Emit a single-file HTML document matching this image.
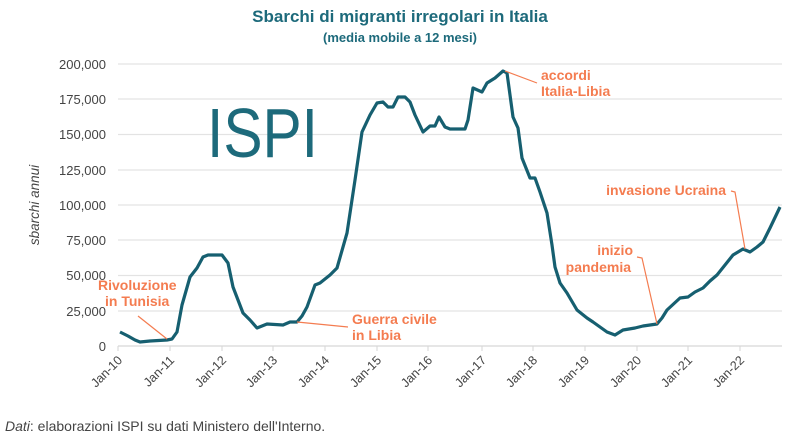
<!DOCTYPE html>
<html><head><meta charset="utf-8"><style>
html,body{margin:0;padding:0;background:#fff;}
svg{display:block;font-family:"Liberation Sans",sans-serif;}
</style></head><body>
<svg width="800" height="436" viewBox="0 0 800 436">
<text x="400" y="22" text-anchor="middle" font-size="17" font-weight="bold" fill="#1d6a7b">Sbarchi di migranti irregolari in Italia</text>
<text x="400" y="42" text-anchor="middle" font-size="13" font-weight="bold" fill="#1d6a7b">(media mobile a 12 mesi)</text>
<g stroke="#e3e3e3" stroke-width="1.2">
<line x1="118" x2="782" y1="64" y2="64"/><line x1="118" x2="782" y1="99" y2="99"/><line x1="118" x2="782" y1="134.5" y2="134.5"/><line x1="118" x2="782" y1="170" y2="170"/><line x1="118" x2="782" y1="205" y2="205"/><line x1="118" x2="782" y1="240" y2="240"/><line x1="118" x2="782" y1="275.5" y2="275.5"/><line x1="118" x2="782" y1="311" y2="311"/>
</g>
<line x1="118" x2="782" y1="346" y2="346" stroke="#d6d6d6" stroke-width="1.2"/>
<g stroke="#d6d6d6" stroke-width="1">
<line x1="118" x2="118" y1="346" y2="351"/><line x1="170" x2="170" y1="346" y2="351"/><line x1="222" x2="222" y1="346" y2="351"/><line x1="273" x2="273" y1="346" y2="351"/><line x1="325" x2="325" y1="346" y2="351"/><line x1="377" x2="377" y1="346" y2="351"/><line x1="428" x2="428" y1="346" y2="351"/><line x1="482" x2="482" y1="346" y2="351"/><line x1="533" x2="533" y1="346" y2="351"/><line x1="585" x2="585" y1="346" y2="351"/><line x1="637" x2="637" y1="346" y2="351"/><line x1="688" x2="688" y1="346" y2="351"/><line x1="740" x2="740" y1="346" y2="351"/>
</g>
<g font-size="13" fill="#444" text-anchor="end">
<text x="106" y="69">200,000</text><text x="106" y="104">175,000</text><text x="106" y="139">150,000</text><text x="106" y="175">125,000</text><text x="106" y="210">100,000</text><text x="106" y="245">75,000</text><text x="106" y="280">50,000</text><text x="106" y="316">25,000</text><text x="106" y="351">0</text>
</g>
<g font-size="12.5" fill="#444" text-anchor="end">
<text transform="translate(123,361) rotate(-45)">Jan-10</text>
<text transform="translate(175,361) rotate(-45)">Jan-11</text>
<text transform="translate(227,361) rotate(-45)">Jan-12</text>
<text transform="translate(278,361) rotate(-45)">Jan-13</text>
<text transform="translate(330,361) rotate(-45)">Jan-14</text>
<text transform="translate(382,361) rotate(-45)">Jan-15</text>
<text transform="translate(433,361) rotate(-45)">Jan-16</text>
<text transform="translate(487,361) rotate(-45)">Jan-17</text>
<text transform="translate(538,361) rotate(-45)">Jan-18</text>
<text transform="translate(590,361) rotate(-45)">Jan-19</text>
<text transform="translate(642,361) rotate(-45)">Jan-20</text>
<text transform="translate(693,361) rotate(-45)">Jan-21</text>
<text transform="translate(745,361) rotate(-45)">Jan-22</text>
</g>
<text transform="translate(39,205) rotate(-90)" text-anchor="middle" font-size="13.5" font-style="italic" fill="#444">sbarchi annui</text>
<text x="207" y="157" font-size="70" fill="#1d6a7b" textLength="111" lengthAdjust="spacingAndGlyphs">ISPI</text>
<polyline fill="none" stroke="#165f70" stroke-width="3.2" stroke-linejoin="round" points="120,332 128,336 135,340 140,342 150,341 167,340 172,339 177,332 182,305 190,277 197,268 203,257 208,255 222,255 228,263 233,287 243,313 250,320 257,328 267,324 283,325 290,322 297,322 302,316 307,307 315,285 320,283 330,275 337,268 347,233 355,180 362,132 370,115 377,103 383,102 388,107 393,107 398,97 405,97 410,102 415,115 423,132 430,126 435,126 439,117 445,127 450,129 457,129 465,129 468,120 473,88 482,92 487,83 495,78 503,71 507,73 513,117 518,128 522,158 530,178 535,178 540,192 547,213 552,245 555,267 560,283 567,293 577,310 587,318 593,322 600,327 607,332 615,335 623,330 635,328 643,326 657,324 662,318 667,310 680,298 688,297 695,292 703,288 710,281 717,275 725,265 733,255 743,249 750,252 757,247 763,242 770,228 780,207"/>
<g stroke="#f47c50" stroke-width="1.2" fill="none">
<polyline points="138,316 167,339"/>
<polyline points="297,322 348,327"/>
<polyline points="505,71 537,83"/>
<polyline points="657,324 642,258 637,257"/>
<polyline points="745,249 735,192 731,191"/>
</g>
<g font-size="14" font-weight="bold" fill="#f47c50">
<text x="98" y="290">Rivoluzione</text><text x="105" y="306">in Tunisia</text>
<text x="352" y="324">Guerra civile</text><text x="352" y="340">in Libia</text>
<text x="541" y="80">accordi</text><text x="541" y="96">Italia-Libia</text>
<text x="633" y="255" text-anchor="end">inizio</text><text x="631" y="272" text-anchor="end">pandemia</text>
<text x="726" y="195" text-anchor="end">invasione Ucraina</text>
</g>
<text x="5" y="431" font-size="14" fill="#444"><tspan font-style="italic">Dati</tspan>: elaborazioni ISPI su dati Ministero dell'Interno.</text>
</svg>
</body></html>
